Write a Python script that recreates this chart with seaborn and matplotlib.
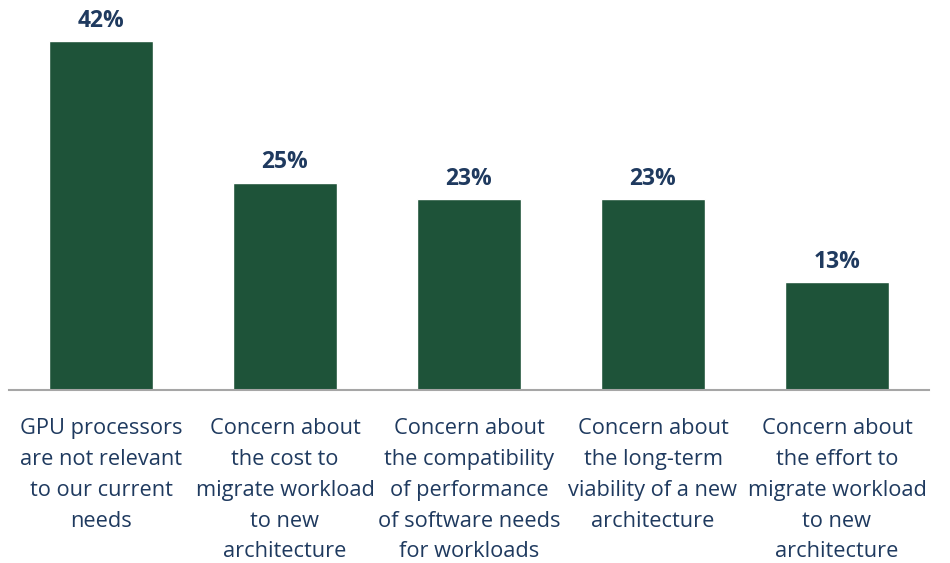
import matplotlib
matplotlib.use("Agg")
import matplotlib.pyplot as plt
import seaborn as sns
import pandas as pd

categories = [
    "GPU processors\nare not relevant\nto our current\nneeds",
    "Concern about\nthe cost to\nmigrate workload\nto new\narchitecture",
    "Concern about\nthe compatibility\nof performance\nof software needs\nfor workloads",
    "Concern about\nthe long-term\nviability of a new\narchitecture",
    "Concern about\nthe effort to\nmigrate workload\nto new\narchitecture",
]
values = [42, 25, 23, 23, 13]

BAR_COLOR = "#1E5339"
TEXT_COLOR = "#1F3A5F"

sns.set_theme(style="white")
plt.rcParams["font.family"] = ["Open Sans", "DejaVu Sans"]

df = pd.DataFrame({"category": categories, "value": values})

fig = plt.figure(figsize=(9.5, 5.63), dpi=100)
ax = fig.add_axes([9 / 950, 173 / 563, 920 / 950, 390 / 563])

sns.barplot(data=df, x="category", y="value", color=BAR_COLOR,
            saturation=1, width=0.565, ax=ax)

ax.set_xlim(-0.5, len(categories) - 0.5)
ax.set_ylim(0, 47)

for i, v in enumerate(values):
    ax.text(i, v + 1.7, f"{v}%", ha="center", va="baseline",
            fontsize=16.5, fontweight="bold", color=TEXT_COLOR)

ax.set_xlabel("")
ax.set_ylabel("")
ax.set_yticks([])
ax.tick_params(axis="x", length=0, pad=20)
for lbl in ax.get_xticklabels():
    lbl.set_fontsize(15.7)
    lbl.set_color(TEXT_COLOR)
    lbl.set_linespacing(1.62)

for side in ["top", "left", "right"]:
    ax.spines[side].set_visible(False)
ax.spines["bottom"].set_color("#A6A6A6")
ax.spines["bottom"].set_linewidth(1.5)

fig.savefig("out.png", dpi=100, facecolor="white")
